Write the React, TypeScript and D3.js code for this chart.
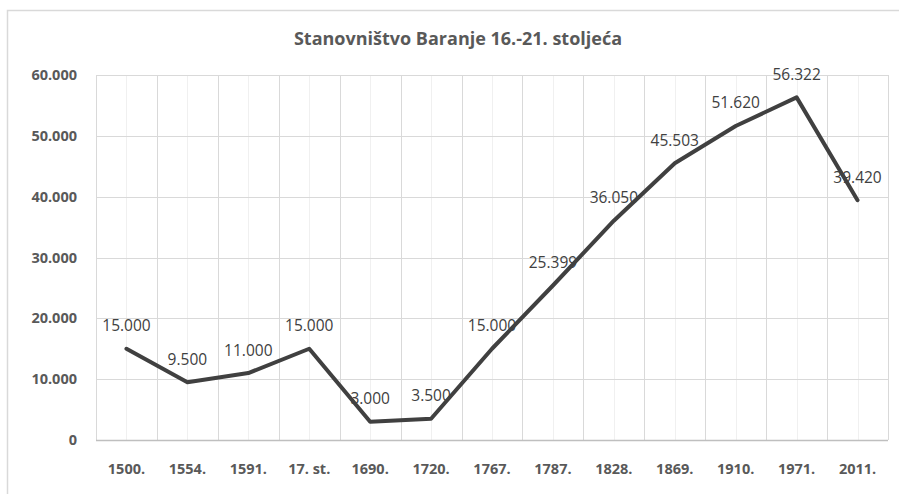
import React from "react";
import * as d3 from "d3";

const categories = ["1500.", "1554.", "1591.", "17. st.", "1690.", "1720.", "1767.", "1787.", "1828.", "1869.", "1910.", "1971.", "2011."];
const population = [15000, 9500, 11000, 15000, 3000, 3500, 15000, 25399, 36050, 45503, 51620, 56322, 39420];
const yTicks = [0, 10000, 20000, 30000, 40000, 50000, 60000];
const title = "Stanovništvo Baranje 16.-21. stoljeća";

const W = 899;
const H = 494;
const FONT = "'Open Sans', 'Noto Sans', sans-serif";

const locale = d3.formatLocale({ decimal: ",", thousands: ".", grouping: [3], currency: ["", ""] });
const fmt = locale.format(",");

export default function App() {
  const x = d3.scaleBand<string>().domain(categories).range([96, 888]);
  const y = d3.scaleLinear().domain([0, 60000]).range([440, 75]);
  const cx = (c: string) => (x(c) as number) + x.bandwidth() / 2;
  const line = d3
    .line<number>()
    .x((_, i) => cx(categories[i]))
    .y((d) => y(d));

  const boundaries = d3.range(categories.length + 1).map((i) => 96 + i * x.bandwidth());

  return (
    <svg width={W} height={H} style={{ position: "absolute", left: 0, top: 0, background: "#fff" }} fontFamily={FONT}>
      <rect x={7.5} y={10.5} width={1000} height={600} fill="#fff" stroke="#d9d9d9" strokeWidth={1.5} />
      <text x={458} y={45} textAnchor="middle" fontSize={18} fontWeight="bold" fill="#595959">
        {title}
      </text>
      {/* minor vertical grid at category centers */}
      {categories.map((c) => (
        <line key={"m" + c} x1={Math.round(cx(c)) + 0.5} x2={Math.round(cx(c)) + 0.5} y1={y(60000)} y2={y(0)} stroke="#f0f0f0" strokeWidth={1} />
      ))}
      {/* major vertical grid at category boundaries */}
      {boundaries.map((bx, i) => (
        <line key={"b" + i} x1={Math.round(bx) + 0.5} x2={Math.round(bx) + 0.5} y1={y(60000)} y2={y(0)} stroke="#d9d9d9" strokeWidth={1} />
      ))}
      {yTicks.map((t) => (
        <g key={t}>
          <line x1={96} x2={888} y1={Math.round(y(t)) + 0.5} y2={Math.round(y(t)) + 0.5} stroke={t === 0 ? "#bfbfbf" : "#d9d9d9"} strokeWidth={t === 0 ? 1.5 : 1} />
          <text x={77} y={y(t)} dy="0.35em" textAnchor="end" fontSize={14.5} fontWeight="bold" fill="#595959">
            {fmt(t)}
          </text>
        </g>
      ))}
      {categories.map((c) => (
        <text key={"x" + c} x={cx(c)} y={474} textAnchor="middle" fontSize={14.5} fontWeight="bold" fill="#595959">
          {c}
        </text>
      ))}
      {population.map((v, i) => (
        <text key={"l" + i} x={cx(categories[i])} y={y(v) - 17.5} textAnchor="middle" fontSize={15.5} fill="#404040">
          {fmt(v)}
        </text>
      ))}
      <path d={line(population) || ""} fill="none" stroke="#404040" strokeWidth={4} strokeLinejoin="round" strokeLinecap="round" />
    </svg>
  );
}
